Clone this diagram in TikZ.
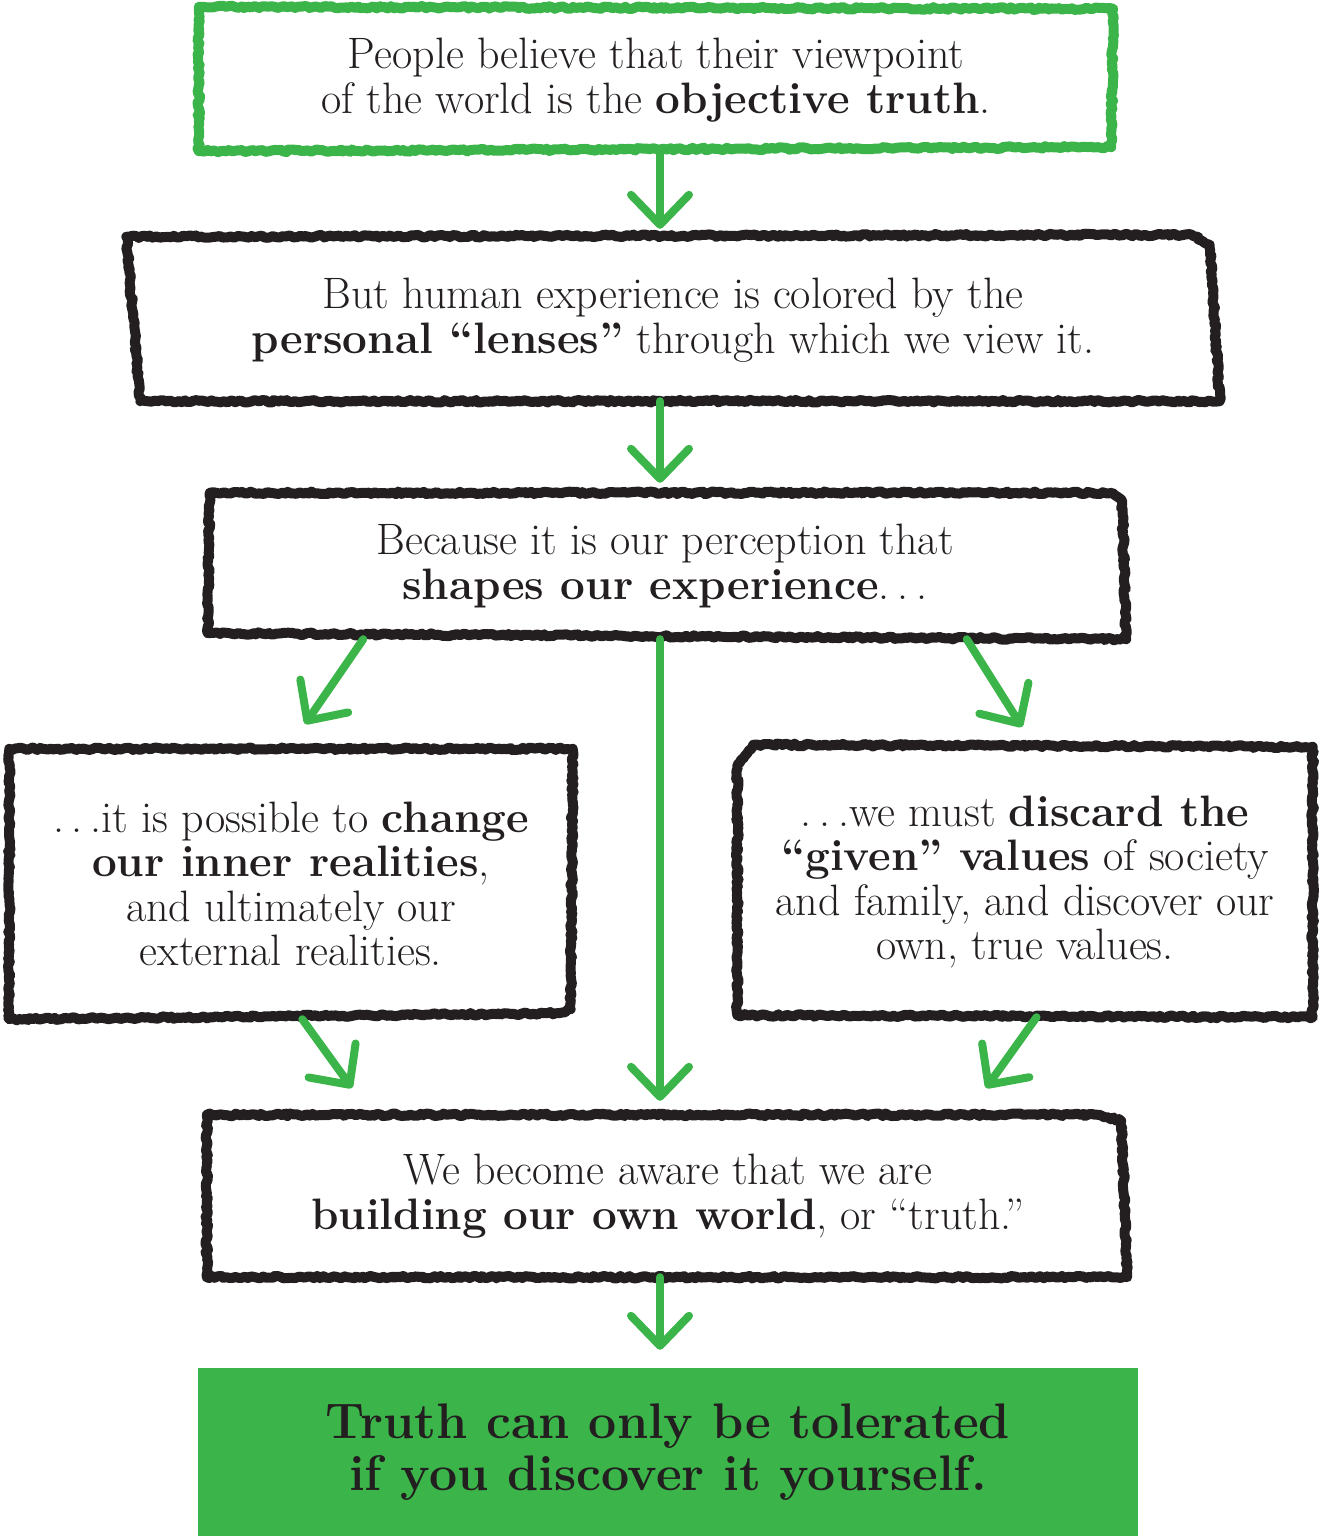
\documentclass[tikz,border=0pt]{standalone}
\usepackage{fontspec}
\usetikzlibrary{arrows.meta,decorations.pathmorphing,calc}
\definecolor{tgreen}{RGB}{59,181,74}
\definecolor{tblack}{RGB}{35,31,32}
\newcommand{\dts}{.\kern0.18em.\kern0.18em.}
\newcommand{\bt}[1]{{\bfseries\addfontfeature{FakeStretch=0.87}#1}}
\begin{document}
\pgfmathsetseed{11}
\begin{tikzpicture}[x=1pt,y=-1pt,
  rough/.style={line width=10pt, line join=round, line cap=round, decorate,
    decoration={random steps, segment length=3pt, amplitude=1.3pt}},
  txt/.style={align=center, text=tblack, font=\fontsize{44}{44.5}\selectfont, inner sep=0pt},
  garrow/.style={draw=tgreen, line width=8pt, line cap=round, line join=round,
    -{Straight Barb[length=30pt,width=58pt,round]}},
  final/.style={fill=tgreen, align=center, text=tblack, font=\bfseries\fontsize{50}{52}\selectfont\addfontfeature{FakeBold=1.2,FakeStretch=0.97}, inner sep=0pt}
]
\useasboundingbox (0,0) rectangle (1323,1536);

% nodes
\node[txt, minimum width=914, minimum height=142] (b1) at (656,80)
  {People believe that their viewpoint\\of the world is the \bt{objective truth}.};
\node[txt, minimum width=1093, minimum height=162] (b2) at (673,320)
  {But human experience is colored by the\\\bt{personal “lenses”} through which we view it.};
\node[txt, minimum width=914, minimum height=146] (b3) at (665,566)
  {Because it is our perception that\\\bt{shapes our experience}\dts};
\node[txt, minimum width=563, minimum height=270] (b4) at (291,884)
  {\dts it is possible to \bt{change}\\\bt{our inner realities},\\and ultimately our\\external realities.};
\node[txt, minimum width=575, minimum height=270] (b5) at (1025,882)
  {\dts we must \bt{discard the}\\\bt{“given” values} of society\\and family, and discover our\\own, true values.};
\node[txt, minimum width=922, minimum height=162] (b6) at (668,1196)
  {We become aware that we are\\\bt{building our own world}, or “truth.”};
\node[final, minimum width=940, minimum height=168] (b7) at (668,1452)
  {Truth can only be tolerated\\if you discover it yourself.};

% rough frames
\draw[rough, tgreen] ([shift={(0,-2)}]b1.north west) -- ([shift={(0,0)}]b1.north east)
  -- ([shift={(-2,-4)}]b1.south east) -- ([shift={(0,0)}]b1.south west) -- cycle;
\draw[rough, tblack] ([shift={(0,-2)}]b2.north west) -- ([shift={(-28,-4)}]b2.north east)
  -- ([shift={(-10,6)}]b2.north east) -- ([shift={(0,0)}]b2.south east) -- ([shift={(14,0)}]b2.south west) -- cycle;
\draw[rough, tblack] ([shift={(2,0)}]b3.north west) -- ([shift={(-10,0)}]b3.north east)
  -- ([shift={(0,8)}]b3.north east) -- ([shift={(4,0)}]b3.south east) -- ([shift={(0,-6)}]b3.south west) -- cycle;
\draw[rough, tblack] ([shift={(0,0)}]b4.north west) -- ([shift={(0,0)}]b4.north east)
  -- ([shift={(-2,-10)}]b4.south east) -- ([shift={(-14,-6)}]b4.south east) -- ([shift={(0,0)}]b4.south west) -- cycle;
\draw[rough, tblack] ([shift={(16,-2)}]b5.north west) -- ([shift={(0,0)}]b5.north east)
  -- ([shift={(0,0)}]b5.south east) -- ([shift={(0,-2)}]b5.south west) -- ([shift={(0,18)}]b5.north west) -- cycle;
\draw[rough, tblack] ([shift={(0,0)}]b6.north west) -- ([shift={(-30,0)}]b6.north east)
  -- ([shift={(-8,6)}]b6.north east) -- ([shift={(-2,0)}]b6.south east) -- ([shift={(0,0)}]b6.south west) -- cycle;

% arrow end points
\coordinate (s3l) at ($(b3.south west)!0.17!(b3.south east)$);
\coordinate (t3l) at (305,724);
\coordinate (s3r) at ($(b3.south west)!0.83!(b3.south east)$);
\coordinate (t3r) at (1022,727);
\coordinate (s4) at ($(b4.south west)!0.52!(b4.south east)$);
\coordinate (t4) at (352,1088);
\coordinate (s5) at ($(b5.south west)!0.52!(b5.south east)$);
\coordinate (t5) at (986,1088);

% connectors
\draw[garrow, shorten >=10pt] (b1.south -| 660,0) -- (b2.north -| 660,0);
\draw[garrow, shorten >=10pt] (b2.south -| 660,0) -- (b3.north -| 660,0);
\draw[garrow] (s3l) -- (t3l);
\draw[garrow] (s3r) -- (t3r);
\draw[garrow, shorten >=14pt] (b3.south -| 660,0) -- (b6.north -| 660,0);
\draw[garrow] (s4) -- (t4);
\draw[garrow] (s5) -- (t5);
\draw[garrow, shorten >=18pt] (b6.south -| 660,0) -- (b7.north -| 660,0);
\end{tikzpicture}
\end{document}
